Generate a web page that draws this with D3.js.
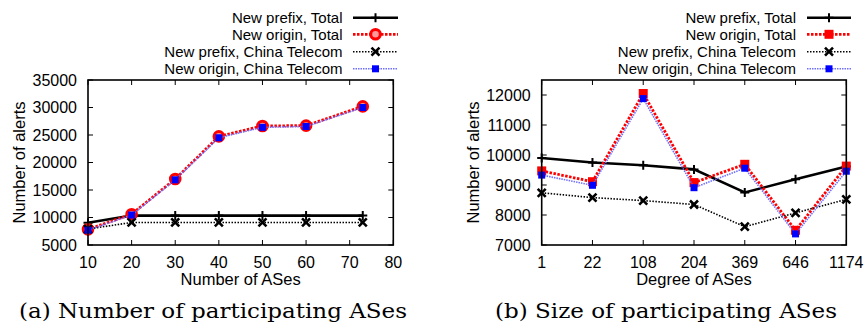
<!DOCTYPE html>
<html><head><meta charset="utf-8">
<script src="https://cdn.jsdelivr.net/npm/d3@7"></script>
<style>
body{margin:0;background:#fff;}
text{font-family:"Liberation Sans",Arial,sans-serif;fill:#000;}
text.cap{font-family:"DejaVu Serif",serif;font-weight:normal;}
</style></head><body>
<svg id="c" width="865" height="326"></svg>
<script>
// ---- data (a) ----
const numASes = [10, 20, 30, 40, 50, 60, 73];
const aPrefixTotal = [9050, 10350, 10350, 10350, 10350, 10350, 10350];
const aOriginTotal = [7850, 10600, 17000, 24750, 26650, 26700, 30200];
const aPrefixCT    = [7900, 9100, 9100, 9100, 9100, 9100, 9100];
const aOriginCT    = [7700, 10450, 16850, 24500, 26400, 26550, 30000];
const aXTicks = [10, 20, 30, 40, 50, 60, 70, 80];
const aYTicks = [5000, 10000, 15000, 20000, 25000, 30000, 35000];

// ---- data (b) ----
const degrees = ["1", "22", "108", "204", "369", "646", "1174"];
const bPrefixTotal = [9900, 9750, 9660, 9520, 8750, 9190, 9620];
const bOriginTotal = [9470, 9110, 12050, 9080, 9690, 7490, 9630];
const bPrefixCT    = [8740, 8580, 8480, 8350, 7610, 8070, 8520];
const bOriginCT    = [9330, 8990, 11880, 8910, 9560, 7370, 9460];
const bYTicks = [7000, 8000, 9000, 10000, 11000, 12000];

const legendLabels = ["New prefix, Total", "New origin, Total", "New prefix, China Telecom", "New origin, China Telecom"];

const svg = d3.select("#c");

const styles = [
  {stroke:"#000", width:2.6, dash:null, marker:"plus"},
  {stroke:"#ff0000", width:2.8, dash:"2.5,1.5", marker:"circle"},
  {stroke:"#000", width:1.6, dash:"1.5,1.5", marker:"cross"},
  {stroke:"#6f6fff", width:1.6, dash:"1.5,1", marker:"square"}
];

function drawMarker(g, type, x, y, alt) {
  if (type === "plus") {
    g.append("path").attr("d", `M${x-4.5},${y}H${x+4.5}M${x},${y-4.5}V${y+4.5}`)
      .attr("stroke", "#000").attr("stroke-width", 2).attr("fill", "none");
  } else if (type === "circle") {
    if (alt) {
      g.append("rect").attr("x", x-4.5).attr("y", y-4.5).attr("width", 9).attr("height", 9).attr("fill", "#ff0000");
    } else {
      g.append("circle").attr("cx", x).attr("cy", y).attr("r", 4.8)
        .attr("fill", "#ff9a9a").attr("stroke", "#ff0000").attr("stroke-width", 3);
    }
  } else if (type === "cross") {
    g.append("path").attr("d", `M${x-4},${y-4}L${x+4},${y+4}M${x-4},${y+4}L${x+4},${y-4}`)
      .attr("stroke", "#000").attr("stroke-width", 2.6).attr("fill", "none");
  } else if (type === "square") {
    g.append("rect").attr("x", x-3.5).attr("y", y-3.5).attr("width", 7).attr("height", 7).attr("fill", "#0000ff");
  }
}

function panel(opt) {
  const {left, right, top, bottom, x, y, xTicks, yTicks, xFmt, series, xVals, alt} = opt;
  const g = svg.append("g");
  const tl = 5;
  xTicks.forEach(t => {
    const px = x(t);
    g.append("line").attr("x1", px).attr("x2", px).attr("y1", bottom).attr("y2", bottom - tl).attr("stroke", "#000").attr("stroke-width", 1);
    g.append("line").attr("x1", px).attr("x2", px).attr("y1", top).attr("y2", top + tl).attr("stroke", "#000").attr("stroke-width", 1);
    g.append("text").attr("x", px).attr("y", bottom + 22.5).attr("text-anchor", "middle").attr("font-size", 16).text(xFmt(t));
  });
  yTicks.forEach(t => {
    const py = y(t);
    g.append("line").attr("x1", left).attr("x2", left + tl).attr("y1", py).attr("y2", py).attr("stroke", "#000").attr("stroke-width", 1);
    g.append("line").attr("x1", right).attr("x2", right - tl).attr("y1", py).attr("y2", py).attr("stroke", "#000").attr("stroke-width", 1);
    g.append("text").attr("x", left - 11).attr("y", py).attr("dy", "0.36em").attr("text-anchor", "end").attr("font-size", 16).text(t);
  });
  series.forEach((vals, i) => {
    const st = styles[i];
    const line = d3.line().x((d, j) => x(xVals[j])).y(d => y(d));
    const p = g.append("path").datum(vals).attr("d", line).attr("fill", "none")
      .attr("stroke", st.stroke).attr("stroke-width", st.width).attr("stroke-linejoin", "miter");
    if (st.dash) p.attr("stroke-dasharray", st.dash);
    vals.forEach((v, j) => drawMarker(g, st.marker, x(xVals[j]), y(v), alt));
  });
  g.append("rect").attr("x", left).attr("y", top).attr("width", right - left).attr("height", bottom - top)
    .attr("fill", "none").attr("stroke", "#000").attr("stroke-width", 1.6);
  const ly = [17.7, 34.3, 51.7, 68.8];
  legendLabels.forEach((lab, i) => {
    const st = styles[i];
    g.append("text").attr("x", opt.legTextX).attr("y", ly[i]).attr("dy", "0.36em").attr("text-anchor", "end").attr("font-size", 15).text(lab);
    const l = g.append("line").attr("x1", opt.legX1).attr("x2", opt.legX2).attr("y1", ly[i]).attr("y2", ly[i])
      .attr("stroke", st.stroke).attr("stroke-width", st.width);
    if (st.dash) l.attr("stroke-dasharray", st.dash);
    drawMarker(g, st.marker, (opt.legX1 + opt.legX2) / 2, ly[i], alt);
  });
  g.append("text").attr("x", (left + right) / 2).attr("y", bottom + 39.5).attr("text-anchor", "middle").attr("font-size", 16.5).text(opt.xTitle);
  g.append("text").attr("transform", `translate(${opt.yTitleX},${(top + bottom) / 2}) rotate(-90)`)
    .attr("text-anchor", "middle").attr("dy", "0.36em").attr("font-size", 16.5).text("Number of alerts");
  g.append("text").attr("class", "cap").attr("x", opt.capX).attr("y", 318).attr("font-size", 21)
    .attr("textLength", opt.capW).attr("lengthAdjust", "spacingAndGlyphs").text(opt.caption);
}

const ax = d3.scaleLinear().domain([10, 80]).range([88, 393.3]);
const ay = d3.scaleLinear().domain([5000, 35000]).range([245, 80]);
panel({left:88, right:393.3, top:80, bottom:245, x:ax, y:ay, xTicks:aXTicks, yTicks:aYTicks, xFmt:d=>d,
  series:[aPrefixTotal, aOriginTotal, aPrefixCT, aOriginCT], xVals:numASes, alt:false,
  legTextX:342.5, legX1:353, legX2:398, xTitle:"Number of ASes", yTitleX:19,
  caption:"(a) Number of participating ASes", capX:19, capW:388});

const bx = d3.scalePoint().domain(degrees).range([541.7, 846.3]).padding(0);
const by = d3.scaleLinear().domain([7000, 12500]).range([245, 80]);
panel({left:541.7, right:846.3, top:80, bottom:245, x:bx, y:by, xTicks:degrees, yTicks:bYTicks, xFmt:d=>d,
  series:[bPrefixTotal, bOriginTotal, bPrefixCT, bOriginCT], xVals:degrees, alt:true,
  legTextX:796, legX1:807, legX2:851, xTitle:"Degree of ASes", yTitleX:473,
  caption:"(b) Size of participating ASes", capX:495, capW:342});
</script>
</body></html>
